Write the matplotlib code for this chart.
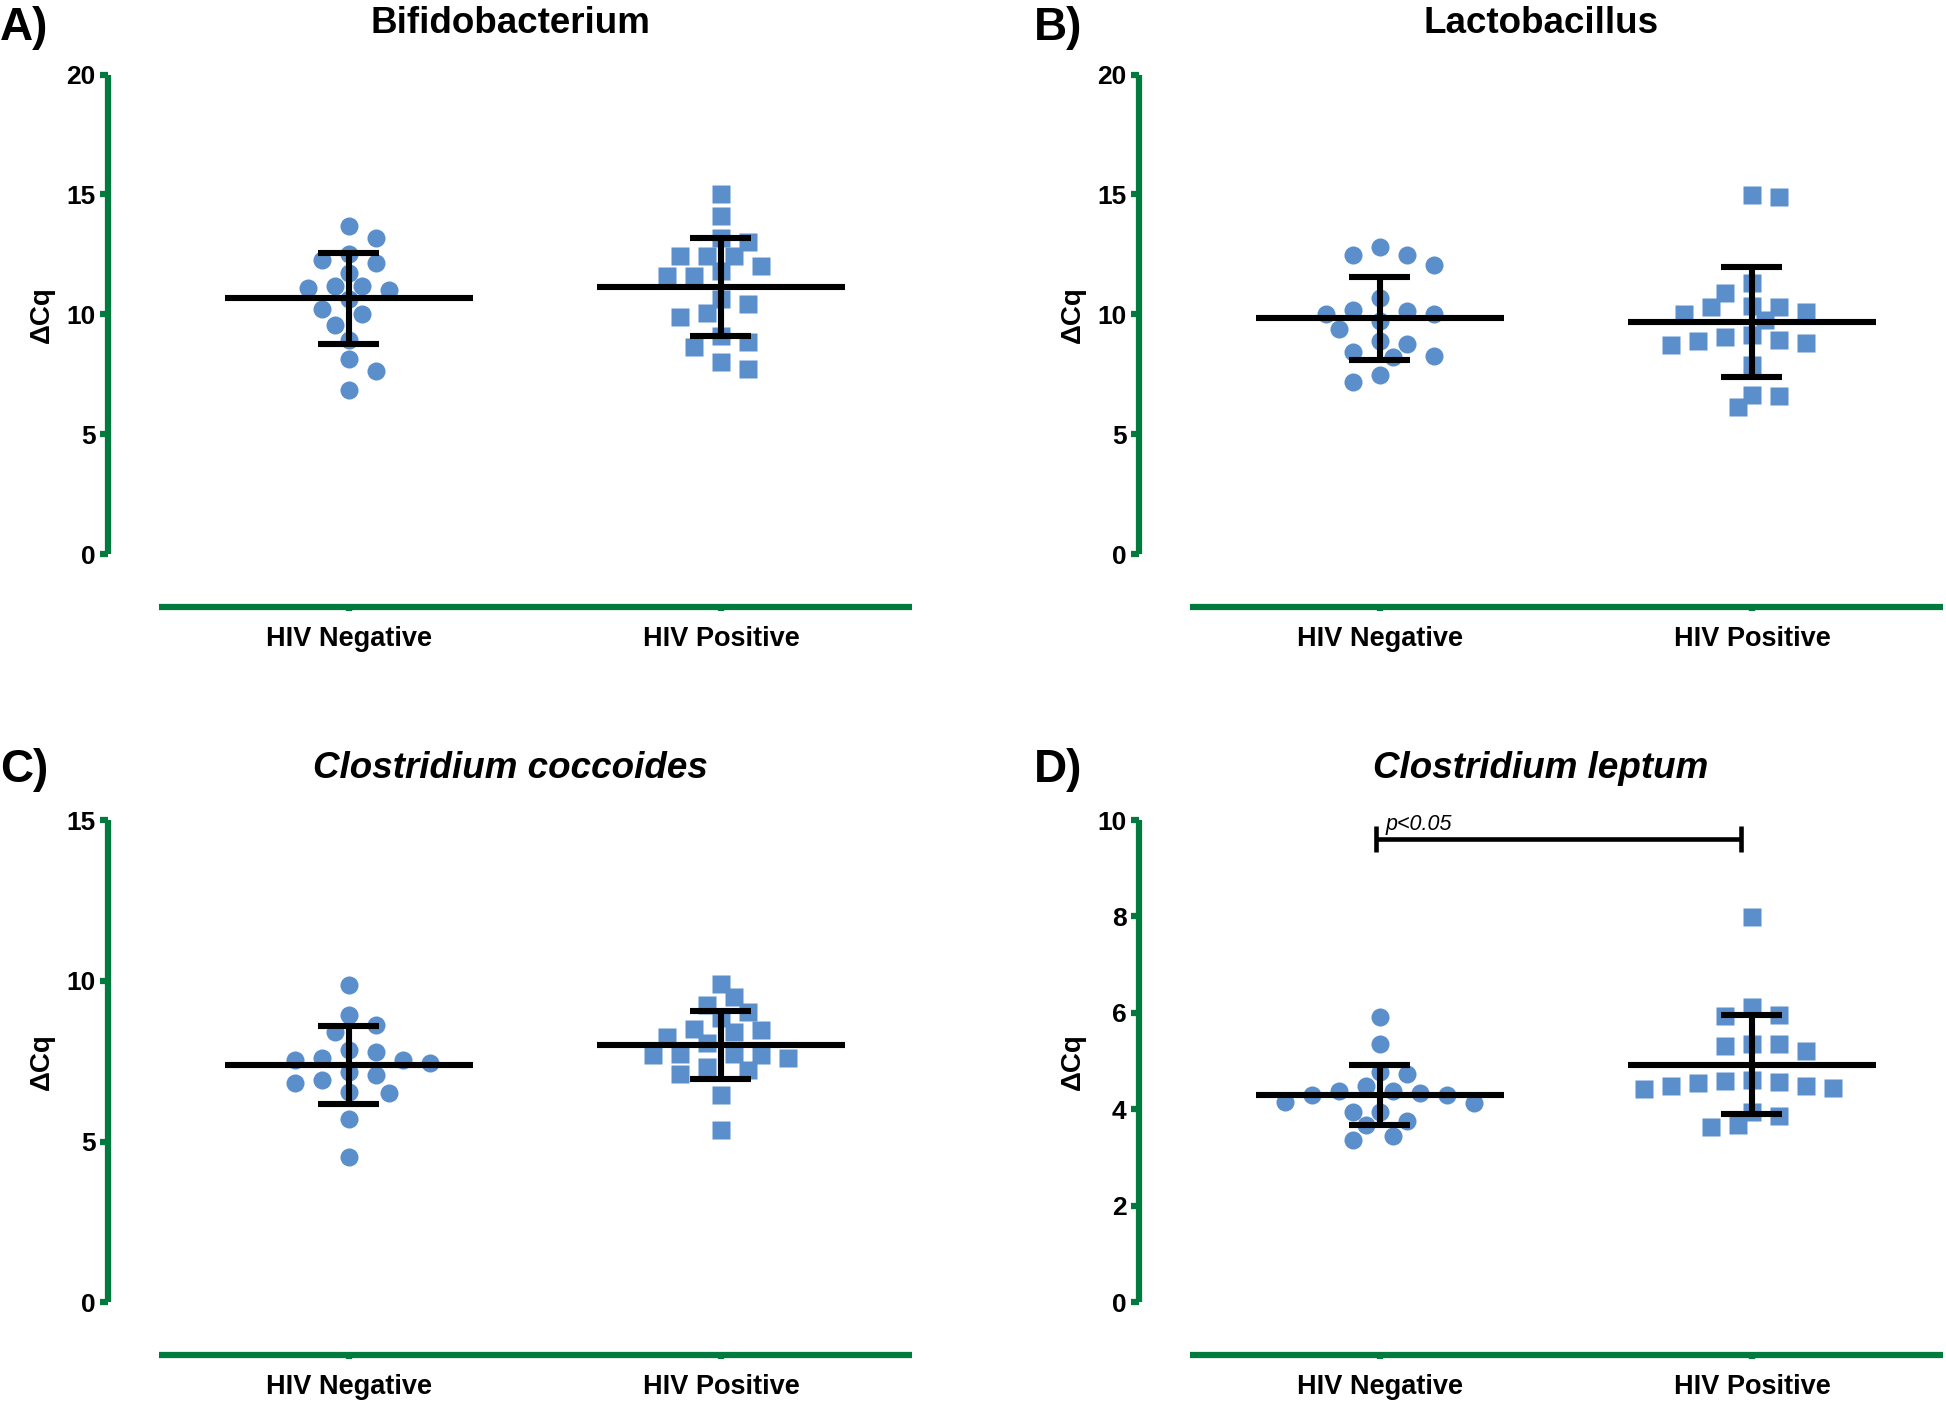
import numpy as np
import matplotlib
matplotlib.use("Agg")
import matplotlib.pyplot as plt

plt.rcParams['font.family'] = ['Liberation Sans', 'DejaVu Sans']
plt.rcParams['font.weight'] = 'bold'

groups = ["HIV Negative", "HIV Positive"]

# dCq values
bifido_neg = [13.67, 13.18, 12.53, 12.14, 12.28, 11.72, 11.17, 11.10, 11.03, 11.17,
              10.64, 10.22, 10.02, 9.57, 8.92, 8.14, 7.63, 6.86]
bifido_pos = [15.01, 14.10, 13.04, 13.18, 12.45, 12.45, 12.45, 12.04, 11.62, 11.62,
              11.80, 10.63, 10.42, 10.08, 9.90, 9.09, 8.63, 8.87, 7.74, 8.04]
lacto_neg = [12.83, 12.49, 12.49, 12.07, 10.67, 10.18, 10.04, 9.73, 10.01, 10.15,
             9.41, 8.75, 8.89, 8.22, 8.43, 8.25, 7.18, 7.46]
lacto_pos = [14.90, 14.96, 11.32, 10.90, 10.11, 9.76, 10.32, 10.32, 10.35, 10.04,
             8.89, 8.71, 9.06, 8.81, 9.13, 8.92, 7.88, 6.66, 6.13, 6.62]
cocc_neg = [9.86, 8.93, 8.64, 8.41, 7.84, 7.79, 7.53, 7.45, 7.53, 7.60,
            7.06, 7.15, 6.81, 6.91, 6.50, 6.55, 5.70, 4.51]
cocc_pos = [9.91, 9.50, 9.24, 9.03, 8.83, 8.51, 8.41, 8.25, 8.48, 8.08,
            7.69, 7.69, 7.60, 7.71, 7.71, 7.09, 7.33, 7.22, 6.45, 5.36]
lept_neg = [5.91, 5.35, 4.73, 4.77, 4.49, 4.38, 4.30, 4.16, 4.14, 4.29,
            4.34, 4.38, 3.95, 3.95, 3.68, 3.76, 3.37, 3.46]
lept_pos = [7.98, 6.13, 5.95, 5.93, 5.36, 5.22, 5.31, 5.36, 4.62, 4.56,
            4.48, 4.44, 4.42, 4.48, 4.54, 4.60, 3.87, 3.95, 3.63, 3.68]

titles = ["Bifidobacterium", "Lactobacillus", "Clostridium coccoides", "Clostridium leptum"]
letters = ["A)", "B)", "C)", "D)"]
ymax = [20, 20, 15, 10]
ystep = [5, 5, 5, 2]
sig_text = "p<0.05"
sig_level = 9.6

GREEN = '#007a3d'
BLUE = '#5b8fcc'

fig = plt.figure(figsize=(19.46, 14.04), dpi=100)

W, H = 1946.0, 1404.0
boxes = [(108, 607, 74.5), (1139, 607, 74.5), (108, 1355, 820), (1139, 1355, 820)]
ax_w = 804


def swarm(ax, xc, vals, step_px=13.5, min_px=18.5):
    # simple beeswarm on a fixed horizontal grid, in pixel space
    tr = ax.transData
    p0 = tr.transform((0, 0))
    p1 = tr.transform((1, 1))
    sx = p1[0] - p0[0]
    sy = p1[1] - p0[1]
    vals = np.asarray(vals)
    order = np.argsort(vals)[::-1]
    placed = []
    xs = np.zeros(len(vals))
    for i in order:
        yp = vals[i] * sy
        # keep the swarm balanced: try the emptier side first
        right = sum(1 for a, b in placed if a > 0)
        left = sum(1 for a, b in placed if a < 0)
        sgn = 1 if right <= left else -1
        cands = [0]
        for k in range(1, 25):
            cands += [sgn * k, -sgn * k]
        xp = 0.0
        for c in cands:
            xp = c * step_px
            if all(np.hypot(xp - a, yp - b) >= min_px for a, b in placed):
                break
        placed.append((xp, yp))
        xs[i] = xc + xp / sx
    return xs


def mean_sd(ax, xc, vals):
    m = np.mean(vals)
    s = np.std(vals, ddof=1)
    kw = dict(color='black', lw=4.4, solid_capstyle='butt', zorder=4, clip_on=False)
    ax.plot([xc - 0.333, xc + 0.333], [m, m], **kw)
    ax.plot([xc, xc], [m - s, m + s], **kw)
    ax.plot([xc - 0.082, xc + 0.082], [m + s, m + s], **kw)
    ax.plot([xc - 0.082, xc + 0.082], [m - s, m - s], **kw)


data = [(bifido_neg, bifido_pos), (lacto_neg, lacto_pos),
        (cocc_neg, cocc_pos), (lept_neg, lept_pos)]

for i in range(4):
    left, bottom, top = boxes[i]
    ax = fig.add_axes([left / W, 1 - bottom / H, ax_w / W, (bottom - top) / H])
    ppu = (bottom - top - 53) / ymax[i]
    ylow = -52.5 / ppu
    ax.set_xlim(-0.646, 1.513)
    ax.set_ylim(ylow, ymax[i])

    for sp in ['top', 'right']:
        ax.spines[sp].set_visible(False)
    for sp in ['left', 'bottom']:
        ax.spines[sp].set_color(GREEN)
        ax.spines[sp].set_linewidth(4.5)
        ax.spines[sp].set_capstyle('butt')
    ax.spines['left'].set_bounds(0, ymax[i])
    ax.spines['bottom'].set_bounds(-0.51, 1.513)

    ax.set_yticks(np.arange(0, ymax[i] + 0.1, ystep[i]))
    ax.set_yticklabels([str(int(v)) for v in np.arange(0, ymax[i] + 0.1, ystep[i])])
    ax.tick_params(axis='y', direction='out', length=6, width=4.5, color=GREEN,
                   pad=3, labelsize=19)
    ax.set_xticks([0, 1])
    ax.set_xticklabels(groups)
    ax.tick_params(axis='x', direction='out', length=3, width=4.5, color=GREEN,
                   pad=11, labelsize=19.5)

    ax.set_ylabel('ΔCq', fontsize=20, fontweight='bold')
    ax.yaxis.set_label_coords(-0.066, (ymax[i] / 2 - ylow) / (ymax[i] - ylow))

    style = 'italic' if i >= 2 else 'normal'
    ax.set_title(titles[i], fontsize=26.5, fontweight='bold', fontstyle=style, pad=30)

    neg, pos = data[i]
    xn = swarm(ax, 0, neg)
    xp = swarm(ax, 1, pos)
    ax.plot(xn, neg, 'o', color=BLUE, ms=13, mec='none', zorder=3, clip_on=False)
    ax.plot(xp, pos, 's', color=BLUE, ms=12.5, mec='none', zorder=3, clip_on=False)
    mean_sd(ax, 0, neg)
    mean_sd(ax, 1, pos)

    if i == 3:
        kw = dict(color='black', lw=3.3, solid_capstyle='butt', zorder=4)
        ax.plot([-0.01, 0.97], [sig_level, sig_level], **kw)
        ax.plot([-0.01, -0.01], [sig_level - 0.27, sig_level + 0.27], **kw)
        ax.plot([0.97, 0.97], [sig_level - 0.27, sig_level + 0.27], **kw)
        ax.text(0.017, sig_level + 0.08, sig_text, fontsize=15.5, fontstyle='italic',
                fontweight='normal', va='bottom', ha='left')

    fig.text(0.0 if i % 2 == 0 else 1034 / W,
             1 - (40 if i < 2 else 782) / H, letters[i],
             fontsize=33, fontweight='bold', va='baseline', ha='left')

fig.savefig('out.png', dpi=100)
